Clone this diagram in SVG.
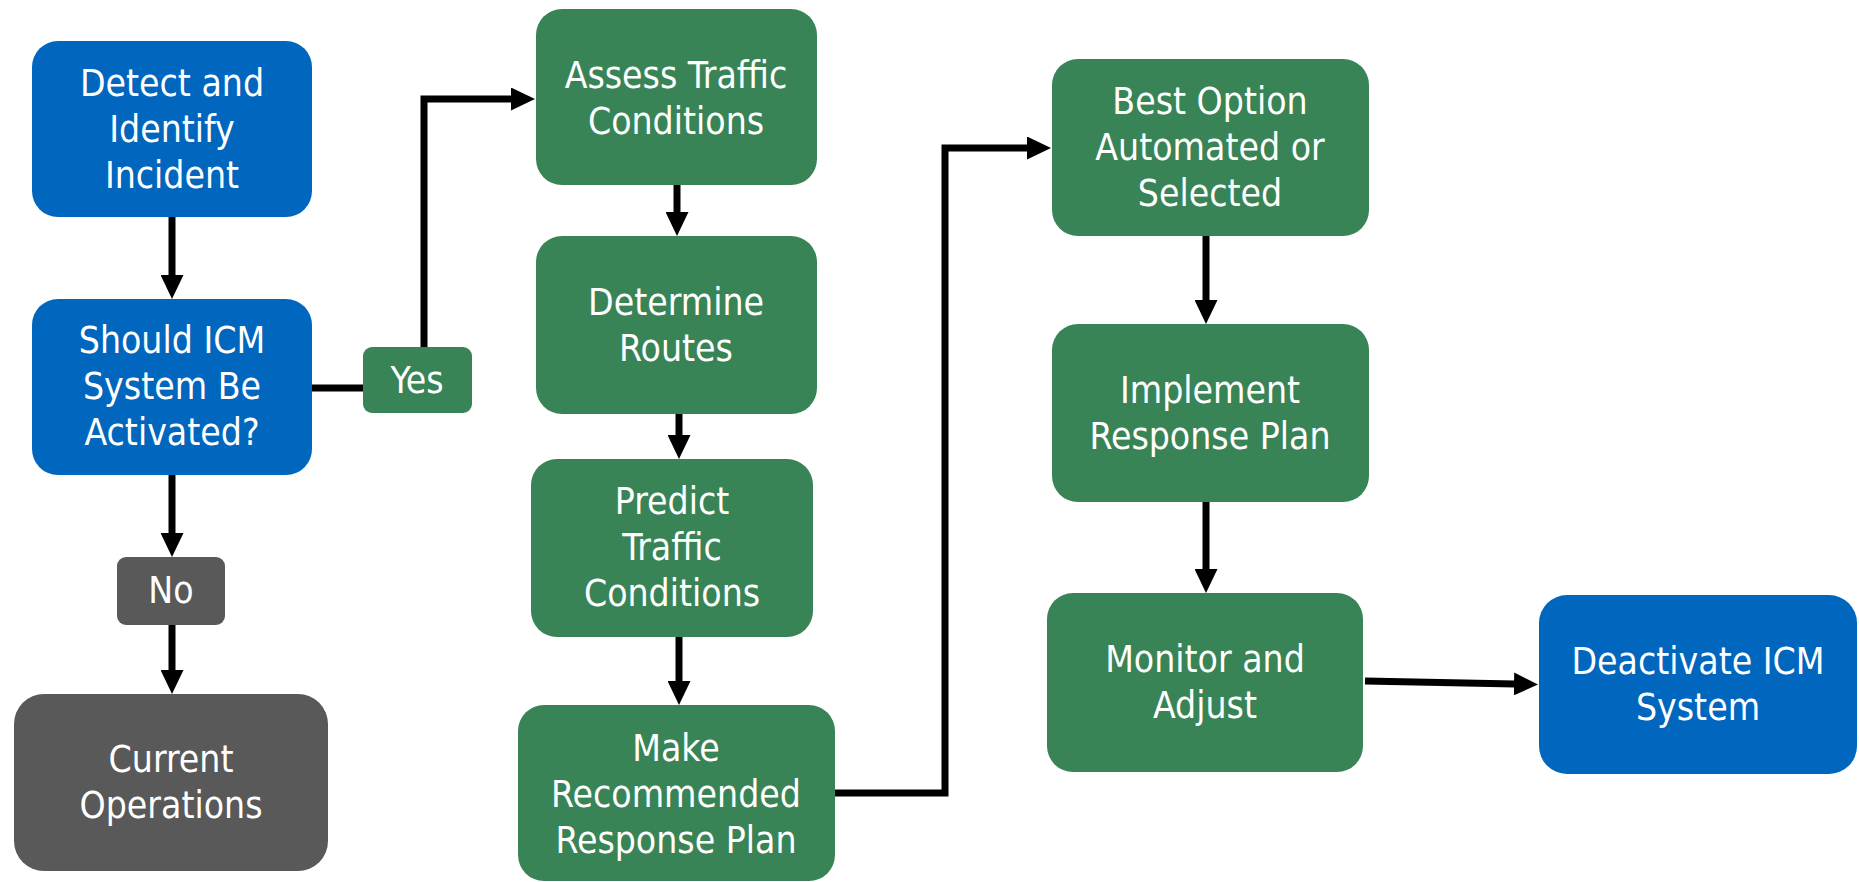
<svg xmlns="http://www.w3.org/2000/svg" width="1859" height="882" viewBox="0 0 1859 882">
<defs>
<style>
.blue{fill:#0066BE}
.green{fill:#398456}
.gray{fill:#595959}
.t{font-family:"DejaVu Sans Condensed","DejaVu Sans","Liberation Sans",sans-serif;font-stretch:condensed;font-size:37px;fill:#ffffff;text-anchor:middle}
.c{fill:none;stroke:#000;stroke-width:7;stroke-linejoin:miter}
</style>
<marker id="ah" markerUnits="userSpaceOnUse" markerWidth="25" markerHeight="23" refX="1" refY="11.5" orient="auto" viewBox="0 0 25 23">
<path d="M0,0 L24,11.5 L0,23 z" fill="#000"/>
</marker>
</defs>
<rect width="1859" height="882" fill="#fff"/>
<g id="connectors">
<line class="c" x1="172" y1="217" x2="172" y2="276" marker-end="url(#ah)"/>
<line class="c" x1="312" y1="388" x2="363" y2="388"/>
<polyline class="c" points="424,347 424,99 512,99" marker-end="url(#ah)"/>
<line class="c" x1="172" y1="475" x2="172" y2="534" marker-end="url(#ah)"/>
<line class="c" x1="172" y1="625" x2="172" y2="671" marker-end="url(#ah)"/>
<line class="c" x1="677" y1="185" x2="677" y2="213" marker-end="url(#ah)"/>
<line class="c" x1="679" y1="414" x2="679" y2="436" marker-end="url(#ah)"/>
<line class="c" x1="679" y1="637" x2="679" y2="682" marker-end="url(#ah)"/>
<polyline class="c" points="835,793 945,793 945,148 1028,148" marker-end="url(#ah)"/>
<line class="c" x1="1206" y1="236" x2="1206" y2="301" marker-end="url(#ah)"/>
<line class="c" x1="1206" y1="502" x2="1206" y2="570" marker-end="url(#ah)"/>
<line class="c" x1="1365" y1="681" x2="1515" y2="684" marker-end="url(#ah)"/>
</g>
<g id="detect">
<rect class="blue" x="32" y="41" width="280" height="176" rx="26"/>
<text class="t" x="172" y="96">Detect and</text>
<text class="t" x="172" y="142">Identify</text>
<text class="t" x="172" y="188">Incident</text>
</g>
<g id="should">
<rect class="blue" x="32" y="299" width="280" height="176" rx="26"/>
<text class="t" x="172" y="353">Should ICM</text>
<text class="t" x="172" y="399">System Be</text>
<text class="t" x="172" y="445">Activated?</text>
</g>
<g id="yes">
<rect class="green" x="363" y="347" width="109" height="66" rx="9"/>
<text class="t" x="417" y="393">Yes</text>
</g>
<g id="no">
<rect class="gray" x="117" y="557" width="108" height="68" rx="9"/>
<text class="t" x="171" y="603">No</text>
</g>
<g id="current">
<rect class="gray" x="14" y="694" width="314" height="177" rx="30"/>
<text class="t" x="171" y="772">Current</text>
<text class="t" x="171" y="818">Operations</text>
</g>
<g id="assess">
<rect class="green" x="536" y="9" width="281" height="176" rx="26"/>
<text class="t" x="676" y="88">Assess Traffic</text>
<text class="t" x="676" y="134">Conditions</text>
</g>
<g id="determine">
<rect class="green" x="536" y="236" width="281" height="178" rx="26"/>
<text class="t" x="676" y="315">Determine</text>
<text class="t" x="676" y="361">Routes</text>
</g>
<g id="predict">
<rect class="green" x="531" y="459" width="282" height="178" rx="26"/>
<text class="t" x="672" y="514">Predict</text>
<text class="t" x="672" y="560">Traffic</text>
<text class="t" x="672" y="606">Conditions</text>
</g>
<g id="make">
<rect class="green" x="518" y="705" width="317" height="176" rx="26"/>
<text class="t" x="676" y="761">Make</text>
<text class="t" x="676" y="807">Recommended</text>
<text class="t" x="676" y="853">Response Plan</text>
</g>
<g id="best">
<rect class="green" x="1052" y="59" width="317" height="177" rx="26"/>
<text class="t" x="1210" y="114">Best Option</text>
<text class="t" x="1210" y="160">Automated or</text>
<text class="t" x="1210" y="206">Selected</text>
</g>
<g id="implement">
<rect class="green" x="1052" y="324" width="317" height="178" rx="26"/>
<text class="t" x="1210" y="403">Implement</text>
<text class="t" x="1210" y="449">Response Plan</text>
</g>
<g id="monitor">
<rect class="green" x="1047" y="593" width="316" height="179" rx="26"/>
<text class="t" x="1205" y="672">Monitor and</text>
<text class="t" x="1205" y="718">Adjust</text>
</g>
<g id="deactivate">
<rect class="blue" x="1539" y="595" width="318" height="179" rx="28"/>
<text class="t" x="1698" y="674">Deactivate ICM</text>
<text class="t" x="1698" y="720">System</text>
</g>
</svg>
